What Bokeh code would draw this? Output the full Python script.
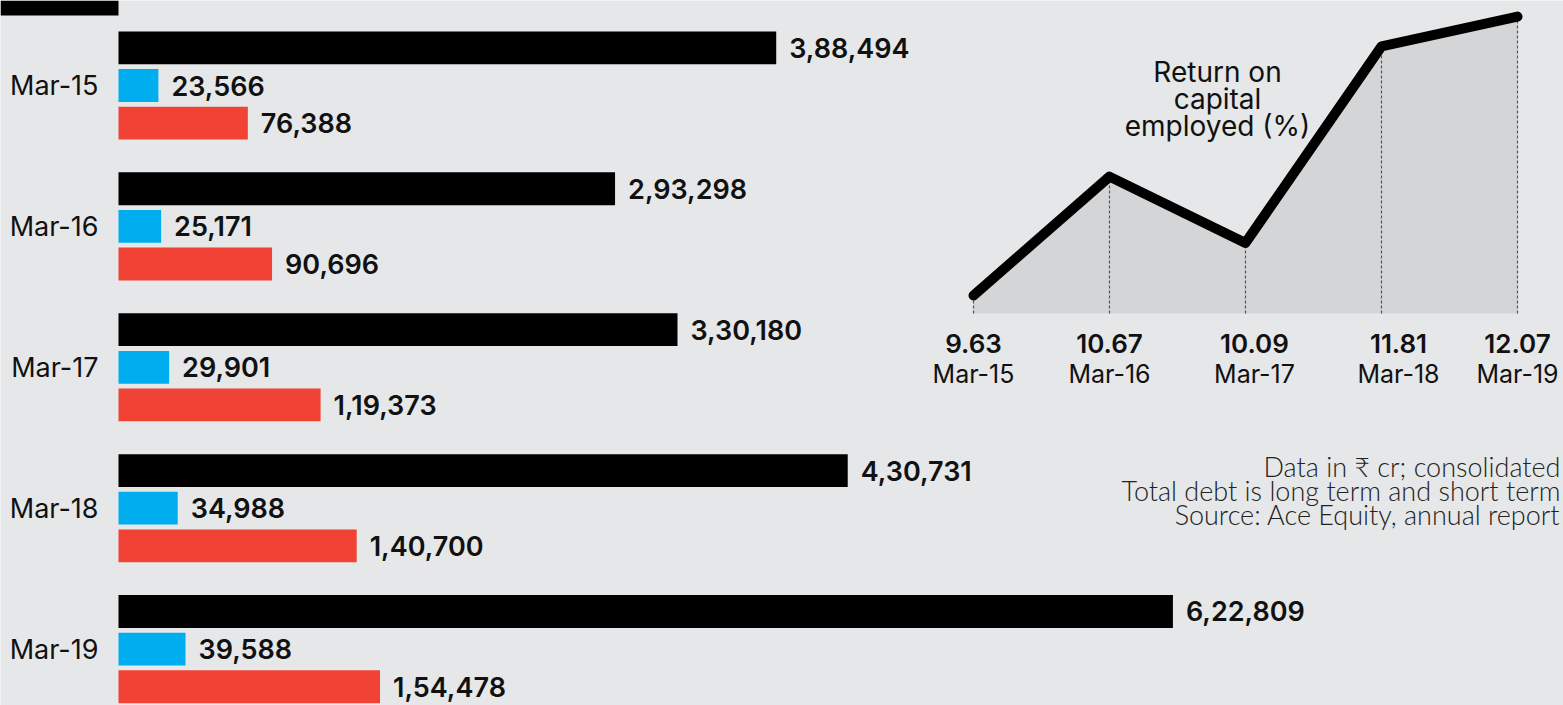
from bokeh.plotting import figure
from bokeh.models import Range1d, ColumnDataSource, Label
from bokeh.core.properties import value
from bokeh.embed import file_html
from bokeh.resources import INLINE

# ---------------- data ----------------
years = ["Mar-15", "Mar-16", "Mar-17", "Mar-18", "Mar-19"]
series_black = [388494, 293298, 330180, 430731, 622809]
series_blue = [23566, 25171, 29901, 34988, 39588]
total_debt = [76388, 90696, 119373, 140700, 154478]
roce = [9.63, 10.67, 10.09, 11.81, 12.07]
roce_title = ["Return on", "capital", "employed (%)"]
notes = ["Data in \u20b9 cr; consolidated",
         "Total debt is long term and short term",
         "Source: Ace Equity, annual report"]


def indian_format(n):
    s = str(int(n))
    if len(s) <= 3:
        return s
    last3 = s[-3:]
    rest = s[:-3]
    parts = []
    while len(rest) > 2:
        parts.insert(0, rest[-2:])
        rest = rest[:-2]
    if rest:
        parts.insert(0, rest)
    return ",".join(parts + [last3])


# ---------------- style ----------------
W, H = 1563, 705
BG = "#e6e7e8"
FILL = "#d4d5d7"
BLACK = "#000000"
BLUE = "#00aeef"
RED = "#f04336"
FONT = value("Inter")
SEMI = value("Inter SemiBold")
NOTE_FONT = "Lato Light"
TXT = "#111111"

# bar chart scale (px per unit, zero at 118 px)
K = 0.001693
X0 = 118
PITCH = 140.9
Y0 = 85
x_start = -X0 / K
x_end = (W - X0) / K
y_top = -Y0 / PITCH
y_bot = (H - Y0) / PITCH

p = figure(width=W, height=H, x_range=Range1d(x_start, x_end),
           y_range=Range1d(y_bot, y_top), output_backend="svg",
           toolbar_location=None, min_border=0, x_axis_location=None,
           y_axis_location=None, background_fill_color=BG,
           border_fill_color=BG, outline_line_color=None)
p.grid.visible = False

# line chart ranges
LX0, LPX = 973, 136
LY0, LK = 295, 114.3
p.extra_x_ranges = {"lx": Range1d(-LX0 / LPX, (W - LX0) / LPX)}
p.extra_y_ranges = {"ly": Range1d(roce[0] - (H - LY0) / LK, roce[0] + LY0 / LK)}

idx = list(range(len(years)))
OFF = 0.267
BH = 0.233

# partial bar at the top-left corner (cut-off element)
p.quad(left=[x_start], right=[0], top=[y_top], bottom=[y_top + 15 / PITCH],
       color=BLACK, line_color=None)

bars = ColumnDataSource(dict(
    yb=[i - OFF for i in idx], yu=idx, yr=[i + OFF for i in idx],
    black=series_black, blue=series_blue, red=total_debt,
    lb=[indian_format(v) for v in series_black],
    lu=[indian_format(v) for v in series_blue],
    lr=[indian_format(v) for v in total_debt],
    cat=years, zero=[0] * len(years)))

p.hbar(y="yb", left=0, right="black", height=BH, source=bars, color=BLACK, line_color=None)
p.hbar(y="yu", left=0, right="blue", height=BH, source=bars, color=BLUE, line_color=None)
p.hbar(y="yr", left=0, right="red", height=BH, source=bars, color=RED, line_color=None)

for xcol, ycol, lcol in [("black", "yb", "lb"), ("blue", "yu", "lu"), ("red", "yr", "lr")]:
    p.text(x=xcol, y=ycol, text=lcol, source=bars, x_offset=13,
           text_align="left", text_baseline="middle", text_font=SEMI,
           text_font_size="27px", text_color=TXT)

p.text(x="zero", y="yu", text="cat", source=bars, x_offset=-20,
       text_align="right", text_baseline="middle", text_font=FONT,
       text_font_size="27px", text_color=TXT)

# ---------------- line chart ----------------
base = roce[0] - 18 / LK
line_src = ColumnDataSource(dict(
    x=idx, y=roce, base=[base] * len(idx),
    vl=["%.2f" % v for v in roce], cat=years, dx=[0, 0, 9, 17, 0]))

p.varea(x="x", y1="base", y2="y", source=line_src, fill_color=FILL,
        x_range_name="lx", y_range_name="ly")
p.segment(x0="x", y0="base", x1="x", y1="y", source=line_src,
          line_color="#555555", line_width=1.2, line_dash="3 2",
          x_range_name="lx", y_range_name="ly")
p.line(x="x", y="y", source=line_src, line_color=BLACK, line_width=10,
       line_join="round", line_cap="round", x_range_name="lx", y_range_name="ly")

p.text(x="x", y="base", text="vl", source=line_src, x_offset="dx", y_offset=30,
       text_align="center", text_baseline="middle", text_font=SEMI,
       text_font_size="26px", text_color=TXT,
       x_range_name="lx", y_range_name="ly")
p.text(x="x", y="base", text="cat", source=line_src, x_offset="dx", y_offset=60,
       text_align="center", text_baseline="middle", text_font=FONT,
       text_font_size="25px", text_color=TXT,
       x_range_name="lx", y_range_name="ly")

n_t = len(roce_title)
title_src = ColumnDataSource(dict(
    x=[(1217 - LX0) / LPX] * n_t, y=[roce[0] + (LY0 - 98) / LK] * n_t,
    t=roce_title, dy=[27 * (k - (n_t - 1) / 2) for k in range(n_t)]))
p.text(x="x", y="y", text="t", y_offset="dy", source=title_src,
       text_align="center", text_baseline="middle", text_font=FONT,
       text_font_size="28px", text_color=TXT,
       x_range_name="lx", y_range_name="ly")

# ---------------- footnotes ----------------
for k, note in enumerate(notes):
    p.add_layout(Label(x=W - 3, y=H - (466 + 24 * k), x_units="screen", y_units="screen",
                       text=note, text_align="right", text_baseline="middle",
                       text_font=NOTE_FONT, text_font_size="27px",
                       text_color="#222222"))

open("out.html", "w").write(file_html(p, INLINE))
